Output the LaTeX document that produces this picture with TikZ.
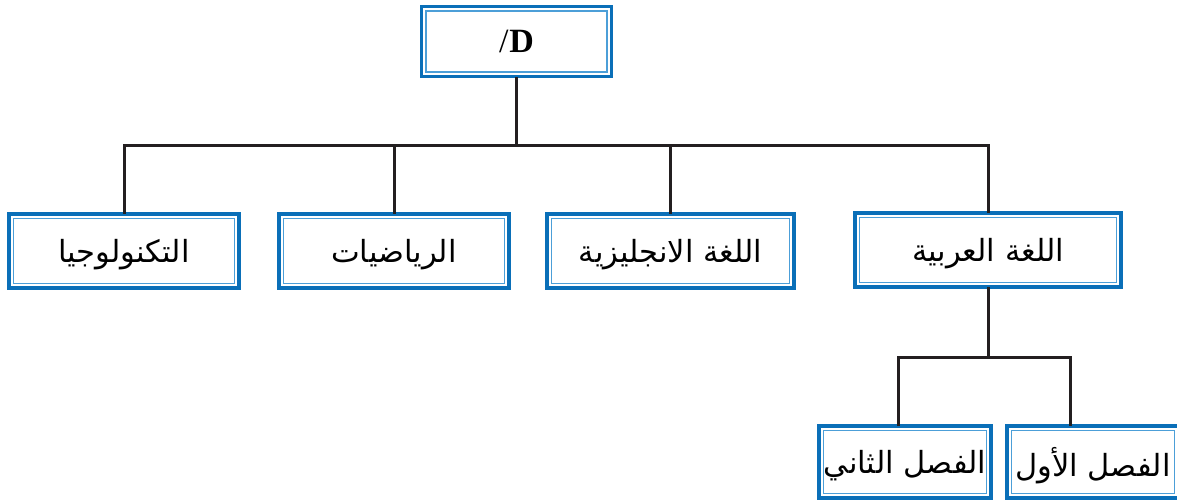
\documentclass[tikz,border=0pt]{standalone}
\usepackage{fontspec}
\setmainfont{Liberation Serif}
\newfontfamily\arabicfont[Script=Arabic]{DejaVu Sans}
\TeXXeTstate=1
\newcommand\artext[1]{\raisebox{-4pt}[\height][\depth]{\beginR #1\endR}}
\definecolor{boxblue}{HTML}{0A6FB8}
\definecolor{innerblue}{HTML}{4C9FD8}
\definecolor{linegray}{HTML}{231F20}
\tikzset{
  orgbox/.style={draw=boxblue, line width=3.5pt, fill=white, inner sep=0pt,
    minimum height=74pt, font=\arabicfont\fontsize{30.5}{34}\selectfont,
    path picture={
      \draw[innerblue, line width=1.3pt]
      ([shift={(4.6pt,-4.6pt)}]path picture bounding box.north west) rectangle ([shift={(-4.6pt,4.6pt)}]path picture bounding box.south east);
    }},
  conn/.style={draw=linegray, line width=3pt, line cap=rect},
}
\begin{document}
\begin{tikzpicture}[x=1pt,y=-1pt]
\useasboundingbox (0,0) rectangle (1177,503);
\node[orgbox, minimum width=190pt, minimum height=70pt, font=\fontsize{34}{38}\selectfont] (top) at (516.5,41.5) {\hbox{/}\kern1pt\hbox{\bfseries D}};
\node[orgbox, minimum width=230pt] (tech) at (124,251) {\artext{التكنولوجيا}};
\node[orgbox, minimum width=230pt] (math) at (394,251) {\artext{الرياضيات}};
\node[orgbox, minimum width=247pt] (eng) at (670.5,251) {\artext{اللغة الانجليزية}};
\node[orgbox, minimum width=266pt] (arab) at (988,250) {\artext{اللغة العربية}};
\node[orgbox, minimum width=172pt, minimum height=72pt] (sec) at (905,462) {\artext{الفصل الثاني}};
\node[orgbox, minimum width=172pt, minimum height=72pt] (fir) at (1093,462) {\artext{الفصل الأول}};
\coordinate (j1) at (516.5,145);
\coordinate (j2) at (988,357);
\draw[conn] (top.south) -- (j1);
\draw[conn] (tech.north) |- (arab.north |- j1) -- (arab.north);
\draw[conn] (math.north) -- (math.north |- j1);
\draw[conn] (eng.north) -- (eng.north |- j1);
\draw[conn] (arab.south) -- (j2);
\coordinate (d2) at (898,0);
\coordinate (d1) at (1070,0);
\draw[conn] (d2 |- sec.north) |- (d1 |- j2) -- (d1 |- fir.north);
\end{tikzpicture}
\end{document}
